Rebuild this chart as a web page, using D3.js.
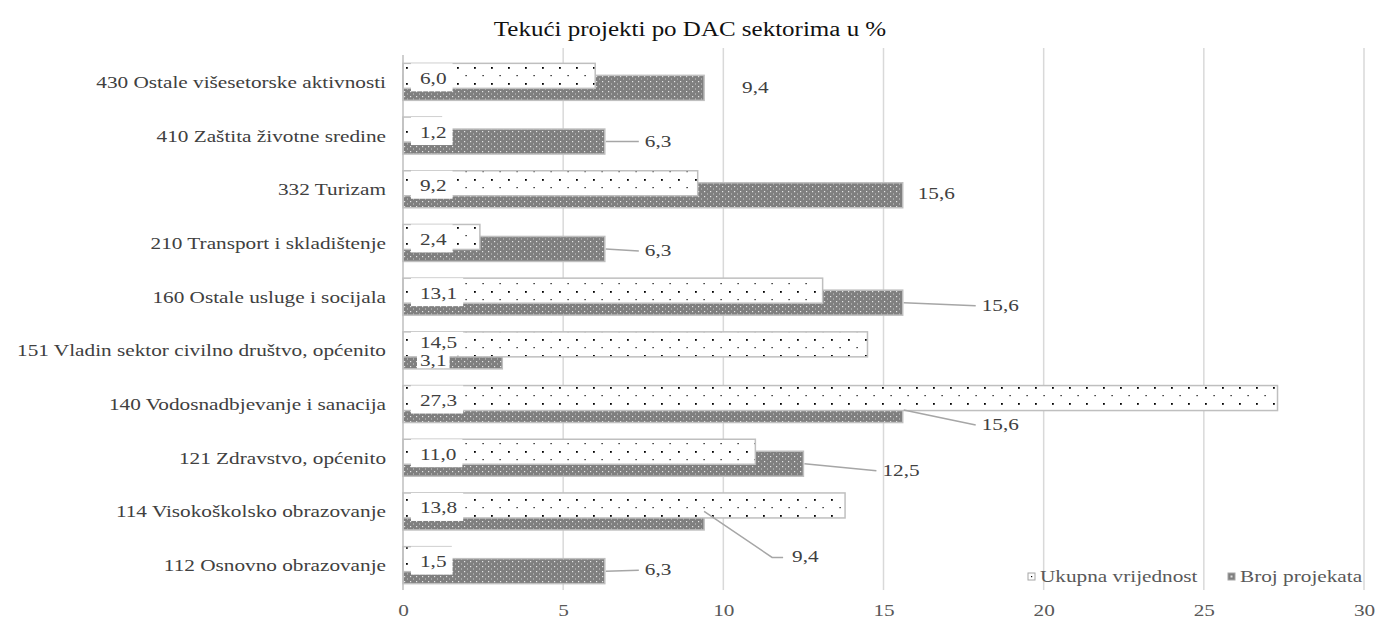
<!DOCTYPE html>
<html>
<head>
<meta charset="utf-8">
<script src="https://cdn.jsdelivr.net/npm/d3@7"></script>
<style>
  html, body { margin: 0; padding: 0; background: #fff; }
</style>
</head>
<body>
<svg id="chart" width="1377" height="624"></svg>
<script>
// ---- data ----
const categories = [
  "430 Ostale višesetorske aktivnosti",
  "410 Zaštita životne sredine",
  "332 Turizam",
  "210 Transport i skladištenje",
  "160 Ostale usluge i socijala",
  "151 Vladin sektor civilno društvo, općenito",
  "140 Vodosnadbjevanje i sanacija",
  "121 Zdravstvo, općenito",
  "114 Visokoškolsko obrazovanje",
  "112 Osnovno obrazovanje"
];
const ukupnaVrijednost = [6.0, 1.2, 9.2, 2.4, 13.1, 14.5, 27.3, 11.0, 13.8, 1.5];
const brojProjekata   = [9.4, 6.3, 15.6, 6.3, 15.6, 3.1, 15.6, 12.5, 9.4, 6.3];
const seriesNames = ["Ukupna vrijednost", "Broj projekata"];
const xTicks = [0, 5, 10, 15, 20, 25, 30];
const title = "Tekući projekti po DAC sektorima u %";

// label placement (pixel offsets) — style only
const ukupnaLabelDy = [0, 0, 0, 0, 0, -4, 0, 0, 0, 0];
const brojLabelOffsets = [
  {dx: 38, dy: 0,  leader: false},
  {dx: 40, dy: 0,  leader: true},
  {dx: 15, dy: -1, leader: false},
  {dx: 40, dy: 2,  leader: true},
  {dx: 79, dy: 3,  leader: true},
  {base: true, dy: 4, leader: false},
  {dx: 79, dy: 15, leader: true},
  {dx: 79, dy: 7,  leader: true},
  {dx: 88, dy: 40, leader: true, elbow: true},
  {dx: 40, dy: -1, leader: true}
];

const fmt = v => d3.format(".1f")(v).replace(".", ",");
const FONT = "'Liberation Serif', Tinos, 'Times New Roman', 'DejaVu Serif', serif";
const SX = 1.25; // horizontal stretch of the reference text

function stretch(sel) {
  sel.each(function() {
    const t = d3.select(this);
    const ax = +t.attr("x") || 0;
    t.attr("transform", `translate(${ax},0) scale(${SX},1) translate(${-ax},0)`);
  });
  return sel;
}

// ---- layout ----
const svg = d3.select("#chart").attr("font-family", FONT);
const plot = {left: 403, right: 1364, top: 55, bottom: 592};

const x = d3.scaleLinear().domain([0, 30]).range([plot.left, plot.right]);
const y = d3.scaleBand().domain(categories).range([plot.top, plot.bottom]);
const barH = 25;
const offU = -18.5, offB = -6.5;

// patterns
const defs = svg.append("defs");
const pU = defs.append("pattern").attr("id", "patU").attr("patternUnits", "userSpaceOnUse")
  .attr("width", 17).attr("height", 16).attr("x", plot.left).attr("y", 0);
pU.append("rect").attr("width", 17).attr("height", 16).attr("fill", "#fff");
pU.append("rect").attr("x", 3).attr("y", 3).attr("width", 1.8).attr("height", 1.8).attr("fill", "#000");
pU.append("rect").attr("x", 11.5).attr("y", 11).attr("width", 1.2).attr("height", 1.2).attr("fill", "#000");

const pB = defs.append("pattern").attr("id", "patB").attr("patternUnits", "userSpaceOnUse")
  .attr("width", 6).attr("height", 5).attr("x", plot.left).attr("y", 0);
pB.append("rect").attr("width", 6).attr("height", 5).attr("fill", "#7f7f7f");
pB.append("rect").attr("x", 1).attr("y", 1).attr("width", 1.2).attr("height", 1.2).attr("fill", "#e6e6e6");
pB.append("rect").attr("x", 4).attr("y", 3.5).attr("width", 1).attr("height", 1).attr("fill", "#cfcfcf");

// title
stretch(svg.append("text").attr("x", 690).attr("y", 36).attr("text-anchor", "middle")
  .attr("font-size", 20).attr("fill", "#111").text(title));

// gridlines
svg.append("g").selectAll("line").data(xTicks.filter(t => t > 0)).join("line")
  .attr("x1", d => x(d)).attr("x2", d => x(d))
  .attr("y1", 48).attr("y2", 590)
  .attr("stroke", "#d9d9d9").attr("stroke-width", 1.5);

// x axis labels
const xAxis = d3.axisBottom(x).tickValues(xTicks).tickSize(0).tickFormat(d3.format("d"));
const gx = svg.append("g").attr("transform", `translate(0,${598})`).call(xAxis)
  .attr("font-family", FONT).attr("font-size", 17);
gx.select(".domain").remove();
gx.selectAll("text").attr("fill", "#595959").attr("dy", "0.9em")
  .attr("transform", `scale(${SX},1)`);

// y axis labels
const yAxis = d3.axisLeft(y).tickSize(0).tickPadding(0);
const gy = svg.append("g").attr("transform", `translate(386,0)`).call(yAxis)
  .attr("font-family", FONT).attr("font-size", 17);
gy.select(".domain").remove();
gy.selectAll("text").attr("fill", "#404040").attr("x", 0).attr("dy", "0.35em")
  .attr("transform", `scale(${SX},1)`);

// bars: Broj (behind), Ukupna (front)
const rowsB = categories.map((c, i) => ({c, v: brojProjekata[i], i}));
const rowsU = categories.map((c, i) => ({c, v: ukupnaVrijednost[i], i}));

svg.append("g").selectAll("rect").data(rowsB).join("rect")
  .attr("x", x(0)).attr("y", d => y(d.c) + y.bandwidth() / 2 + offB)
  .attr("width", d => x(d.v) - x(0)).attr("height", barH)
  .attr("fill", "url(#patB)").attr("stroke", "#bfbfbf").attr("stroke-width", 1.5);

svg.append("g").selectAll("rect").data(rowsU).join("rect")
  .attr("x", x(0)).attr("y", d => y(d.c) + y.bandwidth() / 2 + offU)
  .attr("width", d => x(d.v) - x(0)).attr("height", barH)
  .attr("fill", "url(#patU)").attr("stroke", "#bfbfbf").attr("stroke-width", 1.5);

// axis line
svg.append("line").attr("x1", x(0)).attr("x2", x(0)).attr("y1", 55).attr("y2", 590)
  .attr("stroke", "#bfbfbf").attr("stroke-width", 1.5);

// Ukupna labels (inside base, white box)
const gU = svg.append("g");
rowsU.forEach((d, i) => {
  const cy = y(d.c) + y.bandwidth() / 2;
  const g = gU.append("g");
  const tx = x(0) + 17;
  const t = g.append("text").attr("x", tx).attr("y", cy + 2 + ukupnaLabelDy[i])
    .attr("font-size", 17).attr("fill", "#404040").text(fmt(d.v));
  stretch(t);
  const w = t.node().getComputedTextLength() * SX;
  g.insert("rect", "text").attr("x", x(0) + 8).attr("y", cy - 18.5)
    .attr("width", tx + w + 6 - (x(0) + 8)).attr("height", 28 + ukupnaLabelDy[i]).attr("fill", "#fff");
});

// Broj labels
const gB = svg.append("g");
rowsB.forEach((d, i) => {
  const o = brojLabelOffsets[i];
  const ex = x(d.v), ey = y(d.c) + y.bandwidth() / 2 + offB + barH / 2;
  if (o.base) {
    const g = gB.append("g");
    const tx = x(0) + 17;
    const t = g.append("text").attr("x", tx).attr("y", ey + 10)
      .attr("font-size", 17).attr("fill", "#404040").text(fmt(d.v));
    stretch(t);
    const w = t.node().getComputedTextLength() * SX;
    g.insert("rect", "text").attr("x", tx - 3).attr("y", ey - 3)
      .attr("width", w + 6).attr("height", 15).attr("fill", "#fff");
    return;
  }
  const lx = ex + o.dx, ly = ey + o.dy;
  if (o.leader) {
    let pts;
    if (o.elbow) pts = [[ex, ey - 6], [lx - 20, ly], [lx - 9, ly]];
    else pts = [[ex + 1, ey], [lx - 6, ly]];
    gB.append("path").attr("d", d3.line()(pts)).attr("fill", "none")
      .attr("stroke", "#a6a6a6").attr("stroke-width", 1.5);
  }
  stretch(gB.append("text").attr("x", lx).attr("y", ly + 5)
    .attr("font-size", 17).attr("fill", "#404040").text(fmt(d.v)));
});

// legend
const leg = svg.append("g");
const legItems = [
  {name: seriesNames[0], fill: "#fff", x: 1028},
  {name: seriesNames[1], fill: "#7f7f7f", x: 1228}
];
legItems.forEach(it => {
  leg.append("rect").attr("x", it.x).attr("y", 573).attr("width", 7).attr("height", 7)
    .attr("fill", it.fill).attr("stroke", "#a6a6a6").attr("stroke-width", 1);
  if (it.fill !== "#fff") {
    leg.append("rect").attr("x", it.x + 2.5).attr("y", 575.5).attr("width", 2).attr("height", 2).attr("fill", "#ddd");
  } else {
    leg.append("rect").attr("x", it.x + 3).attr("y", 576).attr("width", 1.2).attr("height", 1.2).attr("fill", "#000");
  }
  stretch(leg.append("text").attr("x", it.x + 12).attr("y", 582).attr("font-size", 17)
    .attr("fill", "#595959").text(it.name));
});
</script>
</body>
</html>
